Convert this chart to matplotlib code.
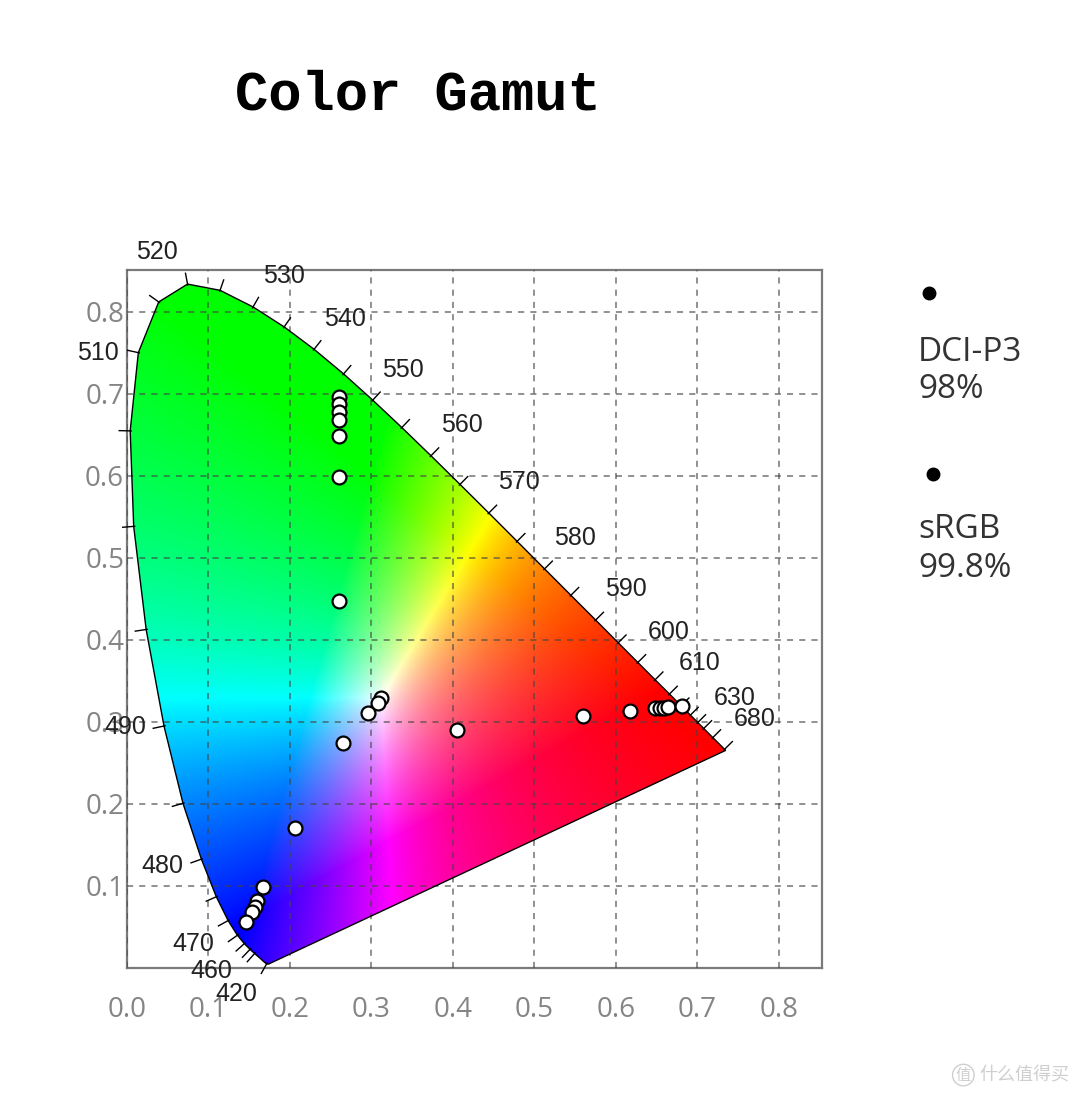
import numpy as np
import matplotlib
matplotlib.use("Agg")
import matplotlib.pyplot as plt
from matplotlib.patches import Polygon

# ---------------- data ----------------
# CIE 1931 2-degree spectral locus (chromaticity x, y) every 5 nm
locus_wl = [380, 385, 390, 395, 400, 405, 410, 415, 420, 425, 430, 435, 440, 445,
            450, 455, 460, 465, 470, 475, 480, 485, 490, 495, 500, 505, 510, 515,
            520, 525, 530, 535, 540, 545, 550, 555, 560, 565, 570, 575, 580, 585,
            590, 595, 600, 605, 610, 615, 620, 625, 630, 635, 640, 645, 650, 655,
            660, 665, 670, 675, 680, 685, 690, 695, 700]
locus_x = [0.1741, 0.1740, 0.1738, 0.1736, 0.1733, 0.1730, 0.1726, 0.1721, 0.1714,
           0.1703, 0.1689, 0.1669, 0.1644, 0.1611, 0.1566, 0.1510, 0.1440, 0.1355,
           0.1241, 0.1096, 0.0913, 0.0687, 0.0454, 0.0235, 0.0082, 0.0039, 0.0139,
           0.0389, 0.0743, 0.1142, 0.1547, 0.1929, 0.2296, 0.2658, 0.3016, 0.3373,
           0.3731, 0.4087, 0.4441, 0.4788, 0.5125, 0.5448, 0.5752, 0.6029, 0.6270,
           0.6482, 0.6658, 0.6801, 0.6915, 0.7006, 0.7079, 0.7140, 0.7190, 0.7230,
           0.7260, 0.7283, 0.7300, 0.7311, 0.7320, 0.7327, 0.7334, 0.7340, 0.7344,
           0.7346, 0.7347]
locus_y = [0.0050, 0.0050, 0.0049, 0.0049, 0.0048, 0.0048, 0.0048, 0.0048, 0.0051,
           0.0058, 0.0069, 0.0086, 0.0109, 0.0138, 0.0177, 0.0227, 0.0297, 0.0399,
           0.0578, 0.0868, 0.1327, 0.2007, 0.2950, 0.4127, 0.5384, 0.6548, 0.7502,
           0.8120, 0.8338, 0.8262, 0.8059, 0.7816, 0.7543, 0.7243, 0.6923, 0.6589,
           0.6245, 0.5896, 0.5547, 0.5202, 0.4866, 0.4544, 0.4242, 0.3965, 0.3725,
           0.3514, 0.3340, 0.3197, 0.3083, 0.2993, 0.2920, 0.2859, 0.2809, 0.2770,
           0.2740, 0.2717, 0.2700, 0.2689, 0.2680, 0.2673, 0.2666, 0.2660, 0.2656,
           0.2654, 0.2653]

# wavelengths with numeric labels
label_wl = [420, 460, 470, 480, 490, 510, 520, 530, 540, 550, 560, 570, 580, 590,
            600, 610, 630, 680]
# wavelengths with small tick marks on the locus
tick_wl = [420, 450, 455, 460, 465, 470, 475, 480, 485, 490, 495, 500, 505, 510,
           515, 520, 525, 530, 535, 540, 545, 550, 555, 560, 565, 570, 575, 580,
           585, 590, 595, 600, 605, 610, 615, 620, 625, 630, 640, 680]

# measured points (white circles)
meas_x = [0.260, 0.260, 0.260, 0.260, 0.260, 0.260, 0.260,
          0.312, 0.308, 0.296, 0.265, 0.405,
          0.560, 0.617, 0.648, 0.654, 0.659, 0.664, 0.681,
          0.206, 0.167, 0.160, 0.157, 0.154, 0.146]
meas_y = [0.696, 0.687, 0.678, 0.668, 0.648, 0.599, 0.448,
          0.329, 0.323, 0.311, 0.274, 0.290,
          0.307, 0.313, 0.317, 0.317, 0.317, 0.318, 0.320,
          0.171, 0.099, 0.082, 0.074, 0.068, 0.056]

xticks = [0.0, 0.1, 0.2, 0.3, 0.4, 0.5, 0.6, 0.7, 0.8]
yticks = [0.1, 0.2, 0.3, 0.4, 0.5, 0.6, 0.7, 0.8]

legend_names = ["DCI-P3", "sRGB"]
legend_values = ["98%", "99.8%"]

title = "Color Gamut"

# ---------------- figure ----------------
fig = plt.figure(figsize=(10.8, 10.97), dpi=100)
ax = fig.add_axes([0.1176, 0.1176, 0.6435, 0.6363])
XMAX, YMAX = 0.853, 0.851
ax.set_xlim(0, XMAX)
ax.set_ylim(0, YMAX)

# colour fill of the horseshoe
N = 700
gx = np.linspace(0, XMAX, N)
gy = np.linspace(0.001, YMAX, N)
GX, GY = np.meshgrid(gx, gy)
Xc = GX / GY
Yc = np.ones_like(GX)
Zc = (1 - GX - GY) / GY
M = np.array([[3.2406, -1.5372, -0.4986],
              [-0.9689, 1.8758, 0.0415],
              [0.0557, -0.2040, 1.0570]])
rgb = np.stack([M[i, 0] * Xc + M[i, 1] * Yc + M[i, 2] * Zc for i in range(3)], axis=-1)
rgb = np.clip(rgb, 0, None)
rgb = rgb / np.maximum(rgb.max(axis=-1, keepdims=True), 1e-9)
rgb = np.power(np.clip(rgb, 0, 1), 0.85)

verts = np.column_stack([locus_x, locus_y])
poly = Polygon(verts, closed=True, facecolor="none", edgecolor="black",
               linewidth=1.0, zorder=3)
ax.add_patch(poly)
im = ax.imshow(rgb, origin="lower", extent=[0, XMAX, 0.001, YMAX], aspect="auto",
               interpolation="bilinear", zorder=1)
im.set_clip_path(poly)

# grid
ax.set_axisbelow(False)
ax.grid(True, linestyle=(0, (4, 4)), color="#444444", linewidth=1.1, alpha=0.75)
ax.set_xticks(xticks)
ax.set_yticks(yticks)
ax.set_xticklabels([f"{v:.1f}" for v in xticks], fontsize=20, color="#858585",
                   family="Open Sans")
ax.set_yticklabels([f"{v:.1f}" for v in yticks], fontsize=20, color="#858585",
                   family="Open Sans")
ax.tick_params(axis="both", length=0)
ax.tick_params(axis="x", pad=20)
ax.tick_params(axis="y", pad=2)
for sp in ax.spines.values():
    sp.set_color("#7a7a7a")
    sp.set_linewidth(1.6)

# tick marks on the spectral locus (outward normals, computed in display space)
fig.canvas.draw()
pts_disp = ax.transData.transform(verts)
wl_arr = np.array(locus_wl)
inv = ax.transData.inverted()
for w in tick_wl:
    i = int(np.where(wl_arr == w)[0][0])
    i0, i1 = max(i - 1, 0), min(i + 1, len(wl_arr) - 1)
    d = pts_disp[i1] - pts_disp[i0]
    d = d / np.hypot(*d)
    nrm = np.array([-d[1], d[0]])
    p0 = pts_disp[i] - nrm * 1.0
    p1 = pts_disp[i] + nrm * 11.0
    seg = inv.transform(np.vstack([p0, p1]))
    ax.plot(seg[:, 0], seg[:, 1], color="black", lw=1.0, clip_on=False, zorder=4)

# wavelength labels
label_offsets = {420: (-22, -22), 460: (-24, -20), 470: (-25, -17), 480: (-28, -5),
                 490: (-28, -1), 510: (-29, 0), 520: (-22, 23)}
for w in label_wl:
    i = int(np.where(wl_arr == w)[0][0])
    off = label_offsets.get(w, (22, 22))
    ax.annotate(str(w), (locus_x[i], locus_y[i]), xytext=off,
                textcoords="offset points", ha="center", va="center",
                fontsize=18, color="#222222", family="Liberation Sans",
                annotation_clip=False, zorder=6)

# measured points
ax.plot(meas_x, meas_y, "o", mfc="white", mec="black", ms=10, mew=1.6, zorder=5,
        clip_on=False)

# title
fig.text(0.387, 0.913, title, ha="center", va="center", fontsize=40,
         family="Liberation Mono", fontweight="bold", color="black")

# legend-like annotations on the right
dot_pos = [(0.860, 0.733), (0.864, 0.568)]
name_y = [0.679, 0.517]
val_y = [0.6445, 0.482]
for (dx, dy), ny, vy, nm, vl in zip(dot_pos, name_y, val_y, legend_names, legend_values):
    fig.add_artist(plt.Line2D([dx], [dy], marker="o", color="black", ms=9,
                              transform=fig.transFigure))
    fig.text(0.850, ny, nm, ha="left", va="center", fontsize=24,
             family="Open Sans", color="#333333")
    fig.text(0.850, vy, vl, ha="left", va="center", fontsize=24,
             family="Open Sans", color="#333333")

# watermark
fig.text(0.892, 0.020, "值", ha="center", va="center", fontsize=11,
         family="Noto Sans CJK SC", color="#cfcfcf",
         bbox=dict(boxstyle="circle,pad=0.15", fc="none", ec="#cfcfcf", lw=1))
fig.text(0.907, 0.020, "什么值得买", ha="left", va="center", fontsize=13,
         family="Noto Sans CJK SC", color="#cfcfcf")

fig.savefig("out.png", dpi=100, facecolor="white")
